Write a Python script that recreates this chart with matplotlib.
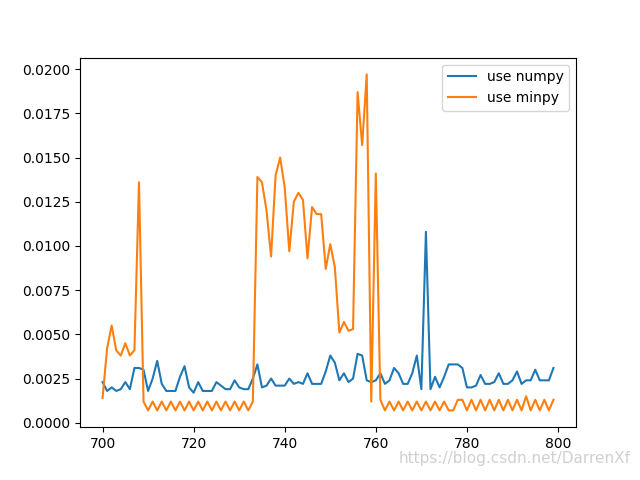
import numpy as np
import matplotlib
matplotlib.use("Agg")
import matplotlib.pyplot as plt

x_vals = list(range(700, 800))

numpy_times = [
    0.0023, 0.0018, 0.0020, 0.0018, 0.0019, 0.0023, 0.0019, 0.0031, 0.0031, 0.0030,
    0.0018, 0.0025, 0.0035, 0.0022, 0.0018, 0.0018, 0.0018, 0.0026, 0.0032, 0.0020,
    0.0017, 0.0023, 0.0018, 0.0018, 0.0018, 0.0023, 0.0021, 0.0019, 0.0019, 0.0024,
    0.0020, 0.0019, 0.0019, 0.0025, 0.0033, 0.0020, 0.0021, 0.0025, 0.0021, 0.0021,
    0.0021, 0.0025, 0.0022, 0.0023, 0.0022, 0.0028, 0.0022, 0.0022, 0.0022, 0.0029,
    0.0038, 0.0034, 0.0024, 0.0028, 0.0023, 0.0025, 0.0039, 0.0038, 0.0024, 0.0023,
    0.0024, 0.0028, 0.0022, 0.0024, 0.0031, 0.0028, 0.0022, 0.0022, 0.0028, 0.0038,
    0.0019, 0.0108, 0.0019, 0.0026, 0.0020, 0.0026, 0.0033, 0.0033, 0.0033, 0.0031,
    0.0020, 0.0020, 0.0021, 0.0027, 0.0022, 0.0022, 0.0023, 0.0028, 0.0022, 0.0022,
    0.0024, 0.0029, 0.0022, 0.0024, 0.0024, 0.0030, 0.0024, 0.0024, 0.0024, 0.0031,
]

minpy_times = [
    0.0014, 0.0042, 0.0055, 0.0041, 0.0038, 0.0045, 0.0038, 0.0041, 0.0136, 0.0012,
    0.0007, 0.0012, 0.0007, 0.0012, 0.0007, 0.0012, 0.0007, 0.0012, 0.0007, 0.0012,
    0.0007, 0.0012, 0.0007, 0.0012, 0.0007, 0.0012, 0.0007, 0.0012, 0.0007, 0.0012,
    0.0007, 0.0012, 0.0007, 0.0012, 0.0139, 0.0136, 0.0120, 0.0094, 0.0140, 0.0150,
    0.0133, 0.0097, 0.0125, 0.0130, 0.0126, 0.0093, 0.0122, 0.0118, 0.0118, 0.0087,
    0.0101, 0.0088, 0.0051, 0.0057, 0.0052, 0.0053, 0.0187, 0.0157, 0.0197, 0.0012,
    0.0141, 0.0013, 0.0007, 0.0012, 0.0007, 0.0012, 0.0007, 0.0012, 0.0007, 0.0012,
    0.0007, 0.0012, 0.0007, 0.0012, 0.0007, 0.0012, 0.0007, 0.0007, 0.0013, 0.0013,
    0.0007, 0.0013, 0.0007, 0.0013, 0.0007, 0.0013, 0.0007, 0.0013, 0.0007, 0.0013,
    0.0007, 0.0013, 0.0007, 0.0015, 0.0007, 0.0013, 0.0007, 0.0013, 0.0007, 0.0013,
]

labels = ["use numpy", "use minpy"]

fig, ax = plt.subplots(figsize=(6.4, 4.8), dpi=100)
ax.plot(x_vals, numpy_times, label=labels[0])
ax.plot(x_vals, minpy_times, label=labels[1])
ax.legend(loc="upper right")

fig.text(0.985, 0.03, "https://blog.csdn.net/DarrenXf", ha="right", va="bottom",
         fontsize=11, color="#d0d0d0")

fig.savefig("out.png", dpi=100)
